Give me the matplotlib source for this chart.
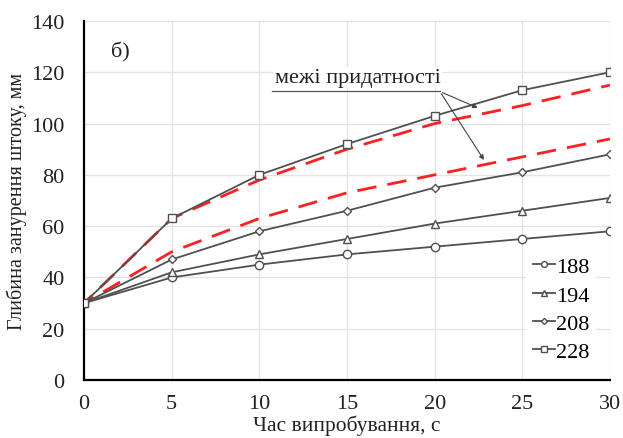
import matplotlib
matplotlib.use("Agg")
import matplotlib.pyplot as plt

plt.rcParams["font.family"] = ["Liberation Serif", "DejaVu Serif"]

t = [0, 5, 10, 15, 20, 25, 30]
s188 = [30, 40, 45, 49, 52, 55, 58]
s194 = [30, 42, 49, 55, 61, 66, 71]
s208 = [30, 47, 58, 66, 75, 81, 88]
s228 = [30, 63, 80, 92, 103, 113, 120]
limit_upper = [30, 63, 78, 90, 100, 107, 115]
limit_lower = [30, 50, 63, 73, 80, 87, 94]

series = [("188", s188, "o"), ("194", s194, "^"), ("208", s208, "D"), ("228", s228, "s")]
msize = {"o": 6, "^": 6, "D": 4.5, "s": 6}

fig = plt.figure(figsize=(6.23, 4.39), dpi=100)
ax = fig.add_axes([0.135, 0.132, 0.844, 0.818])

ax.grid(True, color="#e3e3e3", lw=0.9)
ax.set_axisbelow(True)

ax.plot(t, limit_upper, color="#ff2020", lw=2, ls=(3, (7, 4)), zorder=2)
ax.plot(t, limit_lower, color="#ff2020", lw=2, ls=(3, (7, 4)), zorder=2)

for name, ys, m in series:
    ax.plot(t, ys, color="#505050", lw=1.3, marker=m, markersize=msize[m],
            markerfacecolor="white", markeredgecolor="#505050", markeredgewidth=1.0,
            label=name, zorder=3)

ax.set_xlim(0, 30)
ax.set_ylim(0, 140)
ax.set_xticks(range(0, 31, 5))
ax.set_yticks(range(0, 141, 20))
ax.tick_params(labelsize=16, length=0, colors="#222")
ax.tick_params(axis="x", pad=10)
ax.tick_params(axis="y", pad=14)
for s in ("top", "right"):
    ax.spines[s].set_visible(False)
for s in ("left", "bottom"):
    ax.spines[s].set_linewidth(1.6)
    ax.spines[s].set_color("black")

ax.set_xlabel("Час випробування, с", fontsize=15.5, labelpad=1, color="#222")
ax.set_ylabel("Глибина занурення штоку, мм", fontsize=14.5, color="#222")
ax.yaxis.set_label_coords(-0.108, 0.5)

ax.text(2.05, 128, "б)", fontsize=16, ha="center", va="center", color="#222")

ax.text(15.6, 118, "межі придатності", fontsize=16, ha="center", va="center",
        color="#222", bbox=dict(facecolor="white", edgecolor="none", pad=1))
ax.plot([10.7, 20.3], [112.5, 112.5], color="#555", lw=0.9, zorder=4)
arrow = dict(arrowstyle="-|>", color="#444", lw=0.8, mutation_scale=7)
ax.annotate("", xy=(22.6, 105.7), xytext=(20.3, 112.5), arrowprops=arrow)
ax.annotate("", xy=(22.9, 84.9), xytext=(20.3, 112.5), arrowprops=arrow)

leg = ax.legend(loc="lower right", bbox_to_anchor=(0.995, 0.0), fontsize=16,
                frameon=True, framealpha=1, edgecolor="none", handlelength=1.0,
                handletextpad=0.05, labelspacing=0.35, borderpad=0.3, markerscale=0.7)
leg.get_frame().set_boxstyle("square", pad=0)

fig.savefig("out.png", dpi=100)
